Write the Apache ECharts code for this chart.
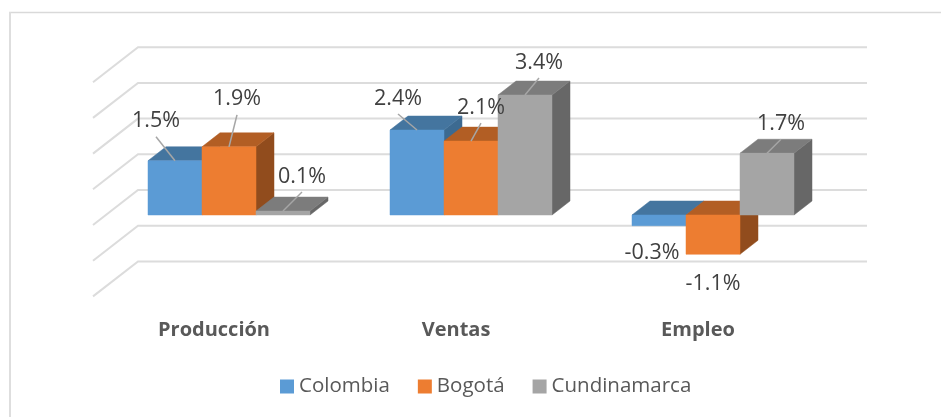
<!DOCTYPE html>
<html>
<head>
<meta charset="utf-8">
<style>html,body{margin:0;padding:0;background:#fff}#c{width:941px;height:417px}</style>
<script src="https://cdn.jsdelivr.net/npm/echarts@6/dist/echarts.min.js"></script>
</head>
<body>
<div id="c"></div>
<script>
const categories = ['Producción', 'Ventas', 'Empleo'];
const colombia = [1.52, 2.38, -0.3];
const bogota = [1.91, 2.07, -1.1];
const cundinamarca = [0.11, 3.36, 1.73];
const yTicks = [-2, -1, 0, 1, 2, 3, 4];

const FONT = '"Open Sans", sans-serif';
const DEPTH_X = 18, DEPTH_Y = 14, BAR_W = 54;
const WALL_UP = 25, FLOOR_DX = 45, FLOOR_DY = 35;
const WALL_LEFT = 30, WALL_RIGHT = 33;
const TEXT_DY = 1.5;

const styles = [
  { front: '#5B9BD5', top: '#44759F', side: '#3C6A91' },
  { front: '#ED7D31', top: '#B25E24', side: '#914C1D' },
  { front: '#A5A5A5', top: '#7C7C7C', side: '#676767' }
];
// label centre relative to the top-centre of each bar
const labelNudge = [
  [[-19, -41], [-19, -33], [-7, 26]],
  [[8, -49], [10, -35], [0, 28]],
  [[19, -36], [14, -34], [14, -31]]
];

function pctText(v) { return v.toFixed(1) + '%'; }

function barRender(idx) {
  return function (params, api) {
    const cat = api.value(0), v = api.value(1);
    const c = api.coord([cat, 0]);
    const yv = api.coord([cat, v])[1];
    const x0 = c[0] + (idx - 1.5) * BAR_W;
    const x1 = x0 + BAR_W;
    const top = Math.min(c[1], yv), bot = Math.max(c[1], yv);
    const s = styles[idx];
    const poly = (pts, fill) => ({
      type: 'polygon',
      shape: { points: pts },
      style: { fill: fill, stroke: fill, lineWidth: 0.5 }
    });
    const children = [
      poly([[x1, top], [x1 + DEPTH_X, top - DEPTH_Y], [x1 + DEPTH_X, bot - DEPTH_Y], [x1, bot]], s.side),
      poly([[x0, top], [x1, top], [x1 + DEPTH_X, top - DEPTH_Y], [x0 + DEPTH_X, top - DEPTH_Y]], s.top),
      poly([[x0, top], [x1, top], [x1, bot], [x0, bot]], s.front)
    ];
    const ax = (x0 + x1) / 2, ay = yv;
    const n = labelNudge[idx][cat];
    const lx = ax + n[0], ly = ay + n[1];
    if (v > 0) {
      children.push({
        type: 'line', z2: 50,
        shape: { x1: ax, y1: ay, x2: lx, y2: ly + 17 },
        style: { stroke: '#A6A6A6', lineWidth: 1.5 }
      });
    }
    children.push({
      type: 'text', z2: 60,
      style: {
        x: lx, y: ly + TEXT_DY, text: pctText(v), align: 'center', verticalAlign: 'middle',
        fill: '#404040', fontSize: 21.5, fontFamily: FONT
      }
    });
    return { type: 'group', children: children };
  };
}

function gridRender(params, api) {
  const v = api.value(0);
  const cs = params.coordSys;
  const y = api.coord([0, v])[1] - WALL_UP;
  const xl = cs.x + WALL_LEFT, xr = cs.x + cs.width + WALL_RIGHT;
  return {
    type: 'polyline',
    shape: { points: [[xl - FLOOR_DX, y + FLOOR_DY], [xl, y], [xr, y]] },
    style: { stroke: '#DCDCDC', lineWidth: 2, fill: null }
  };
}

const barSeries = (name, data, idx) => ({
  name: name, type: 'custom', coordinateSystem: 'cartesian2d', z: 5,
  renderItem: barRender(idx),
  encode: { x: 0, y: 1 },
  itemStyle: { color: styles[idx].front },
  data: data.map((v, i) => [i, v]),
  clip: false
});

const chart = echarts.init(document.getElementById('c'), null, { renderer: 'canvas' });
chart.setOption({
  animation: false,
  backgroundColor: '#fff',
  graphic: [
    {
      type: 'line', silent: true, z: 0,
      shape: { x1: 9, y1: 12.5, x2: 941, y2: 12.5 },
      style: { stroke: '#D9D9D9', lineWidth: 1.5 }
    },
    {
      type: 'line', silent: true, z: 0,
      shape: { x1: 10, y1: 12, x2: 10, y2: 417 },
      style: { stroke: '#DEDEDE', lineWidth: 2 }
    }
  ],
  grid: { left: 108, width: 726, top: 72.2, height: 214.2 },
  xAxis: {
    type: 'category', data: categories,
    axisLine: { show: false }, axisTick: { show: false },
    axisLabel: {
      margin: 34, padding: [0, 30, 0, 0], interval: 0,
      color: '#595959', fontSize: 20, fontWeight: 'bold', fontFamily: FONT
    }
  },
  yAxis: {
    type: 'value', min: -2, max: 4, interval: 1,
    axisLine: { show: false }, axisTick: { show: false },
    axisLabel: { show: false }, splitLine: { show: false }
  },
  legend: {
    data: ['Colombia', 'Bogotá', 'Cundinamarca'],
    left: 275, top: 371,
    icon: 'rect', itemWidth: 14, itemHeight: 14, itemGap: 28,
    textStyle: { color: '#595959', fontSize: 20.5, fontFamily: FONT }
  },
  series: [
    {
      name: 'grid', type: 'custom', z: 1, silent: true,
      renderItem: gridRender, encode: { y: 0 },
      data: yTicks.map(v => [v]), clip: false
    },
    barSeries('Colombia', colombia, 0),
    barSeries('Bogotá', bogota, 1),
    barSeries('Cundinamarca', cundinamarca, 2)
  ]
});
</script>
</body>
</html>
